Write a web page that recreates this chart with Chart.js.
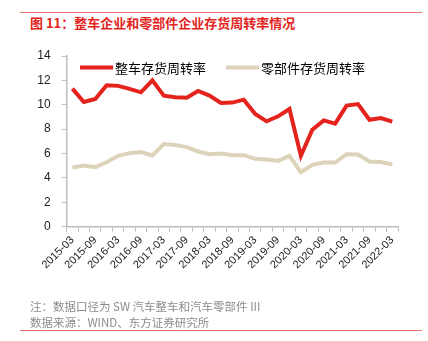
<!DOCTYPE html>
<html><head><meta charset="utf-8">
<script src="https://cdn.jsdelivr.net/npm/chart.js@4"></script>
<style>
html,body{margin:0;padding:0;background:#fff;width:428px;height:341px;overflow:hidden;position:relative}
#wrap{position:absolute;left:0;top:0;width:428px;height:341px}
.rule{position:absolute;left:20px;width:402px;height:1px;background:#e8736f}
#title{position:absolute;left:30px;top:14px;font:bold 13px 'Noto Sans CJK SC';color:#e3231c;white-space:nowrap;line-height:18px}
.note{position:absolute;left:30px;font:11.5px 'Noto Sans CJK SC';color:#8c8c8c;white-space:nowrap;line-height:16px}
</style></head><body>
<div class="rule" style="top:12px"></div>
<div id="title">图 11：整车企业和零部件企业存货周转率情况</div>
<div id="wrap"><canvas id="c" width="428" height="341"></canvas></div>
<div class="note" style="top:298px">注：数据口径为 SW 汽车整车和汽车零部件 III</div>
<div class="note" style="top:314px">数据来源：WIND、东方证券研究所</div>
<div class="rule" style="top:330px"></div>
<script>
const categories = ['2015-03','2015-06','2015-09','2015-12','2016-03','2016-06','2016-09','2016-12',
 '2017-03','2017-06','2017-09','2017-12','2018-03','2018-06','2018-09','2018-12',
 '2019-03','2019-06','2019-09','2019-12','2020-03','2020-06','2020-09','2020-12',
 '2021-03','2021-06','2021-09','2021-12','2022-03'];
const vehicleTurnover = [11.32,10.23,10.48,11.6,11.55,11.3,11.02,12.0,10.75,10.62,10.58,11.13,10.75,10.15,10.18,10.42,9.24,8.64,9.05,9.65,5.81,7.95,8.72,8.45,9.93,10.06,8.77,8.91,8.61];
const partsTurnover = [4.85,5.02,4.88,5.29,5.81,6.03,6.12,5.84,6.78,6.7,6.53,6.17,5.95,6.0,5.87,5.87,5.57,5.51,5.4,5.81,4.47,5.07,5.26,5.26,5.95,5.92,5.35,5.3,5.1];
const seriesNames = ['整车存货周转率','零部件存货周转率'];
const yTicks = [0,2,4,6,8,10,12,14];

const RED = '#e3231c', BEIGE = '#ddd3ba';

// legend drawn inside the plot area, near its top-left
const innerLegend = {
  id:'innerLegend',
  afterDraw(chart){
    const ctx = chart.ctx, area = chart.chartArea;
    let x = area.left + 13.3;
    const y = area.top + 11.5;
    ctx.save();
    ctx.font = "13px 'Noto Sans CJK SC'";
    ctx.textBaseline = 'middle';
    chart.data.datasets.forEach(ds => {
      ctx.strokeStyle = ds.borderColor;
      ctx.lineWidth = ds.borderWidth;
      ctx.beginPath(); ctx.moveTo(x, y); ctx.lineTo(x + 33, y); ctx.stroke();
      ctx.fillStyle = '#000';
      ctx.fillText(ds.label, x + 35, y + 0.5);
      x += 35 + ctx.measureText(ds.label).width + 20;
    });
    ctx.restore();
  }
};
new Chart(document.getElementById('c'), {
  type:'line',
  data:{
    labels: categories,
    datasets:[
      {label:seriesNames[0], data:vehicleTurnover, borderColor:RED, backgroundColor:RED, borderWidth:4, pointRadius:0, tension:0},
      {label:seriesNames[1], data:partsTurnover, borderColor:BEIGE, backgroundColor:BEIGE, borderWidth:4, pointRadius:0, tension:0}
    ]
  },
  options:{
    responsive:false, animation:false, devicePixelRatio:1,
    layout:{padding:{left:0, top:56, right:30, bottom:51}},
    plugins:{ tooltip:{enabled:false}, legend:{display:false} },
    scales:{
      x:{
        offset:true,
        grid:{offset:true, drawOnChartArea:false, drawTicks:true, tickLength:5, color:'#bdbdbd'},
        border:{color:'#bdbdbd', width:1.5},
        ticks:{autoSkip:false, maxRotation:45, minRotation:45, padding:2, color:'#222',
          font:{family:"'Liberation Sans', Arial", size:11},
          callback:function(v,i){ return i%2===0 ? categories[i] : ''; }},
        afterFit(s){ s.height = 290-226.7; }
      },
      y:{
        min:0, max:14,
        afterBuildTicks(s){ s.ticks = yTicks.map(v=>({value:v})); },
        grid:{drawOnChartArea:false, tickLength:5, color:'#bdbdbd'},
        border:{color:'#bdbdbd', width:1.5},
        ticks:{padding:11, color:'#222', font:{family:"'Liberation Sans', Arial", size:12}},
        afterFit(s){ s.width = 66.7; }
      }
    }
  },
  plugins:[innerLegend]
});
</script>
</body></html>
